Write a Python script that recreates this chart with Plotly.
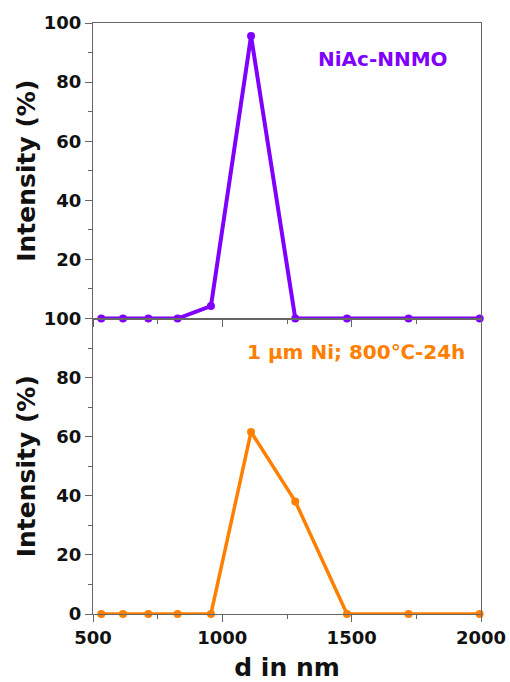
import plotly.graph_objects as go
from plotly.subplots import make_subplots

# Particle size bins (nm) and intensity distributions (%)
size_nm = [532, 616, 714, 827, 956, 1111, 1282, 1482, 1720, 1995]
niac_nnmo = [0, 0, 0, 0, 4.2, 95.6, 0, 0, 0, 0]
ni_800c = [0, 0, 0, 0, 0, 61.6, 38.1, 0, 0, 0]

x_ticks = [500, 1000, 1500, 2000]
y_ticks_top = [20, 40, 60, 80, 100]
y_ticks_bottom = [0, 20, 40, 60, 80, 100]

PURPLE = "#7F00FF"
ORANGE = "#FF8000"
AXIS = "#666666"
FONT = "DejaVu Sans"

W, H = 510, 682
L, R, T, B = 93, 29, 23, 68


def px_to_paper(px, py):
    """Convert page pixel coordinates to paper coordinates."""
    return (px - L) / (W - L - R), 1 - (py - T) / (H - T - B)


fig = make_subplots(rows=2, cols=1, shared_xaxes=True, vertical_spacing=0)

fig.add_trace(go.Scatter(
    x=size_nm, y=niac_nnmo, mode="lines+markers",
    line=dict(color=PURPLE, width=4), marker=dict(color=PURPLE, size=8),
    cliponaxis=False, showlegend=False), row=1, col=1)
fig.add_trace(go.Scatter(
    x=size_nm, y=ni_800c, mode="lines+markers",
    line=dict(color=ORANGE, width=3.5), marker=dict(color=ORANGE, size=8),
    cliponaxis=False, showlegend=False), row=2, col=1)

tickfont = dict(family=FONT, size=18, color="#111111", weight="bold")
titlefont = dict(family=FONT, size=25, color="#111111", weight="bold")

common_x = dict(range=[500, 2000], showline=True, linecolor=AXIS, linewidth=1.3,
                mirror=True, ticks="outside", ticklen=7, tickcolor=AXIS,
                tickwidth=1.3, showgrid=False, zeroline=False, automargin=False,
                minor=dict(dtick=250, ticks="outside", ticklen=4, tickcolor=AXIS, tickwidth=1.3))
fig.update_xaxes(**common_x, row=1, col=1, showticklabels=False)
fig.update_xaxes(**common_x, row=2, col=1, tickvals=x_ticks, tickfont=tickfont,
                 title=dict(text="d in nm", font=titlefont, standoff=12))

common_y = dict(range=[0, 100], showline=True, linecolor=AXIS, linewidth=1.3,
                mirror=True, ticks="outside", ticklen=7, tickcolor=AXIS,
                tickwidth=1.3, showgrid=False, zeroline=False, tickfont=tickfont,
                automargin=False,
                minor=dict(dtick=10, ticks="outside", ticklen=4, tickcolor=AXIS, tickwidth=1.3),
                title=dict(text="Intensity (%)", font=titlefont, standoff=0))
fig.update_yaxes(**common_y, row=1, col=1, tickvals=y_ticks_top)
fig.update_yaxes(**common_y, row=2, col=1, tickvals=y_ticks_bottom)

ax, ay = px_to_paper(383, 59)
fig.add_annotation(x=ax, y=ay, xref="paper", yref="paper", text="NiAc-NNMO",
                   xanchor="center", yanchor="middle", showarrow=False,
                   font=dict(family=FONT, size=20, color=PURPLE, weight="bold"))
ax, ay = px_to_paper(356, 352)
fig.add_annotation(x=ax, y=ay, xref="paper", yref="paper", text="1 µm Ni; 800℃-24h",
                   xanchor="center", yanchor="middle", showarrow=False,
                   font=dict(family=FONT, size=20, color=ORANGE, weight="bold"))

fig.update_layout(width=W, height=H, margin=dict(l=L, r=R, t=T, b=B),
                  plot_bgcolor="white", paper_bgcolor="white")

fig.write_html("out.html")
